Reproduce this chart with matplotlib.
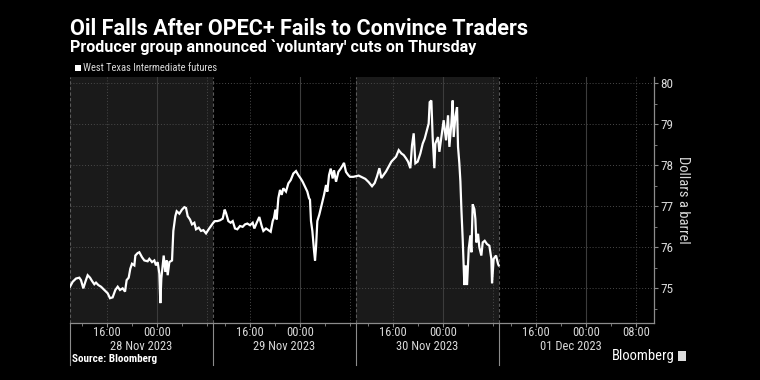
import matplotlib
matplotlib.use("Agg")
import matplotlib.pyplot as plt
import matplotlib.transforms as mtransforms
from matplotlib import font_manager
import numpy as np

# WTI futures. x = hours into each 23h trading session
# (session opens 10:00 local, so 16:00 -> 6, 00:00 -> 14, 08:00 -> 22)
sessions = ['28 Nov 2023', '29 Nov 2023', '30 Nov 2023', '01 Dec 2023']
session_len = 23

nov28_hours = [0.0, 0.43, 0.97, 1.50, 1.77, 2.14, 2.47, 2.84, 3.22, 3.54,
               3.91, 4.18, 4.56, 4.99, 5.52, 6.06, 6.43, 6.86, 7.29, 7.67,
               8.04, 8.47, 8.85, 9.11, 9.44, 9.70, 9.97, 10.35, 10.51, 10.88,
               11.15, 11.58, 11.96, 12.49, 12.76, 13.19, 13.56, 13.83, 14.10, 14.37,
               14.53, 14.69, 14.91, 15.07, 15.33, 15.55, 15.71, 15.98, 16.41, 16.62,
               16.94, 17.16, 17.59, 18.01, 18.39, 18.66, 18.93, 19.30, 19.62, 20.0,
               20.27, 20.70, 21.07, 21.45, 21.88, 22.30, 22.68]
nov28_price = [75.04, 75.16, 75.24, 75.26, 75.20, 75.00, 75.16, 75.32, 75.26, 75.18,
               75.10, 75.14, 75.08, 75.04, 74.96, 74.88, 74.76, 74.78, 74.96, 75.04,
               74.96, 75.00, 74.92, 75.20, 75.26, 75.48, 75.60, 75.56, 75.80, 75.86,
               75.88, 75.76, 75.68, 75.66, 75.72, 75.64, 75.68, 75.56, 75.64, 75.36,
               74.64, 75.24, 75.56, 75.80, 75.40, 75.68, 75.32, 75.64, 75.68, 76.40,
               76.76, 76.88, 76.82, 76.92, 76.98, 76.96, 76.76, 76.68, 76.56, 76.60,
               76.44, 76.48, 76.40, 76.42, 76.34, 76.44, 76.52]

nov29_hours = [0.05, 0.32, 0.70, 1.13, 1.56, 1.88, 2.09, 2.47, 2.84, 3.17,
               3.54, 3.91, 4.34, 4.77, 5.15, 5.52, 5.95, 6.38, 6.65, 7.03,
               7.45, 7.83, 8.10, 8.53, 8.90, 9.28, 9.60, 9.81, 10.03, 10.24,
               10.51, 10.78, 11.05, 11.31, 11.74, 12.12, 12.50, 12.92, 13.35, 13.73,
               14.10, 14.42, 14.80, 15.17, 15.44, 15.60, 15.76, 15.98, 16.25, 16.41,
               16.57, 16.78, 17.10, 17.48, 17.86, 18.18, 18.39, 18.66, 18.93, 19.25,
               19.46, 19.79, 20.16, 20.54, 20.86, 21.07, 21.39, 21.77, 22.04, 22.57]
nov29_price = [76.60, 76.64, 76.64, 76.66, 76.70, 76.92, 76.84, 76.64, 76.60, 76.64,
               76.46, 76.44, 76.52, 76.50, 76.56, 76.58, 76.54, 76.60, 76.46, 76.60,
               76.74, 76.52, 76.40, 76.46, 76.42, 76.38, 76.64, 76.72, 76.92, 76.68,
               77.20, 77.40, 77.28, 77.44, 77.36, 77.56, 77.64, 77.80, 77.86, 77.76,
               77.68, 77.60, 77.48, 77.36, 77.20, 77.16, 76.64, 76.40, 75.92, 75.68,
               76.00, 76.64, 76.80, 77.04, 77.28, 77.52, 77.36, 77.76, 77.92, 77.68,
               77.88, 77.60, 77.84, 77.92, 78.00, 78.06, 77.84, 77.76, 77.72, 77.72]

nov30_hours = [0.43, 0.97, 1.50, 2.04, 2.58, 3.01, 3.38, 3.76, 4.08,
               4.45, 4.83, 5.26, 5.69, 6.06, 6.44, 6.87, 7.30, 7.67, 8.05,
               8.37, 8.74, 9.01, 9.28, 9.55, 9.92, 10.35, 10.73, 11.05, 11.42,
               11.69, 11.85, 12.12, 12.33, 12.60, 12.76, 13.19, 13.41, 13.73, 14.10,
               14.48, 14.80, 15.02, 15.34, 15.55, 15.71, 15.98, 16.25, 16.41, 16.62,
               16.79, 16.95, 17.16, 17.43, 17.65, 17.86, 18.13, 18.39, 18.56, 18.77,
               19.04, 19.20, 19.36, 19.63, 19.84, 20.16, 20.38, 20.70, 21.07, 21.45,
               21.77, 21.88, 22.14, 22.52, 22.84, 22.95]
nov30_price = [77.75, 77.71, 77.67, 77.59, 77.49, 77.57, 77.73, 77.93, 77.69,
               77.77, 77.85, 77.97, 78.09, 78.15, 78.21, 78.37, 78.29, 78.25, 78.17,
               78.09, 77.93, 78.49, 78.78, 78.05, 78.09, 78.29, 78.53, 78.65, 78.86,
               79.02, 79.54, 79.58, 78.69, 77.93, 78.53, 78.69, 78.33, 78.69, 79.10,
               78.61, 79.22, 78.45, 79.02, 79.58, 78.69, 79.18, 79.42, 78.45, 78.05,
               77.61, 76.93, 76.20, 75.08, 75.56, 75.08, 75.96, 76.29, 75.88, 77.05,
               76.93, 76.69, 76.12, 76.33, 76.00, 75.80, 76.12, 76.16, 76.08, 76.04,
               75.72, 75.12, 75.72, 75.80, 75.60, 75.56]

tick_offsets = [6, 14, 22]
tick_names = ['16:00', '00:00', '08:00']
y_ticks = [75, 76, 77, 78, 79, 80]

# pick a condensed face if one is around
names = {f.name for f in font_manager.fontManager.ttflist}
def pick(*cands):
    for c in cands:
        if c in names:
            return c
    return 'DejaVu Sans'
narrow = pick('Liberation Sans Narrow', 'DejaVu Sans Condensed', 'Roboto Condensed', 'Open Sans Condensed')
head = pick('Roboto', 'Lato', 'Noto Sans')
plt.rcParams['font.family'] = [narrow, 'DejaVu Sans']

BG = '#000000'
SHADE = '#1a1a1a'
GRID = '#4a4a4a'
AXIS = '#8c8c8c'
TXT = '#d9d9d9'

# stitch sessions onto one axis
xs, ys = [], []
for k, (h, p) in enumerate([(nov28_hours, nov28_price), (nov29_hours, nov29_price), (nov30_hours, nov30_price)]):
    xs += [session_len * k + v for v in h]
    ys += p

W, H = 760, 380
fig = plt.figure(figsize=(7.6, 3.8), dpi=100, facecolor=BG)
ax = fig.add_axes([70 / W, 1 - 323 / H, (654 - 70) / W, (323 - 77) / H], facecolor=BG)
ax.set_xlim(0, 93.93)
ax.set_ylim(74.155, 80.154)

# alternate day shading + dashed session boundaries
for k in range(len(sessions)):
    if k % 2 == 0:
        ax.axvspan(session_len * k, session_len * (k + 1), color=SHADE, lw=0, zorder=0)
    ax.axvline(session_len * k, color='#5a5a5a', lw=0.8, ls=(0, (3, 2)), zorder=1)

# grid
for v in y_ticks:
    ax.axhline(v, color=GRID, lw=0.7, ls=(0, (1, 2)), zorder=1)
for k in range(len(sessions)):
    for off in tick_offsets:
        if off == 14:
            ax.axvline(session_len * k + off, color='#3c3c3c', lw=0.8, zorder=1)
        else:
            ax.axvline(session_len * k + off, color=GRID, lw=0.7, ls=(0, (1, 2)), zorder=1)

ax.plot(xs, ys, color='white', lw=1.6, zorder=3, solid_joinstyle='miter')

# x axis ticks
major = []
labels = []
for k in range(len(sessions)):
    for off, name in zip(tick_offsets, tick_names):
        if name == '08:00' and k < len(sessions) - 1:
            continue
        major.append(session_len * k + off)
        labels.append(name)
ax.set_xticks(major)
ax.set_xticklabels(labels)
minor = [session_len * k + off for k in range(len(sessions)) for off in (2, 10, 18, 22)]
ax.set_xticks(minor, minor=True)

ax.yaxis.tick_right()
ax.set_yticks(y_ticks)
ax.set_yticklabels([str(v) for v in y_ticks])
ax.set_yticks(np.arange(74.5, 80.0, 1.0), minor=True)

ax.tick_params(axis='x', which='major', colors=AXIS, labelcolor=TXT, labelsize=9,
               length=3, width=0.8, pad=-1)
ax.tick_params(axis='x', which='minor', colors=AXIS, length=2, width=0.6)
ax.tick_params(axis='y', which='major', colors=AXIS, labelcolor=TXT, labelsize=9.5,
               length=3, width=0.8, pad=1.5)
ax.tick_params(axis='y', which='minor', colors=AXIS, length=2, width=0.6)

for s in ['top', 'left']:
    ax.spines[s].set_visible(False)
for s in ['bottom', 'right']:
    ax.spines[s].set_color(AXIS)
    ax.spines[s].set_linewidth(0.9)

# session date labels + separators under the axis
trans = mtransforms.blended_transform_factory(ax.transData, ax.transAxes)
for k, name in enumerate(sessions):
    ax.text(session_len * k + session_len / 2, -(346.5 - 323) / 246, name, transform=trans,
            ha='center', va='center', color=TXT, fontsize=9)
    ax.plot([session_len * k] * 2, [0, -0.17], transform=trans, color=AXIS,
            lw=0.8, clip_on=False)

ax.text((683 - 70) / 584, 0.5, 'Dollars a barrel', transform=ax.transAxes, rotation=270,
        ha='center', va='center', color=TXT, fontsize=10.5)

# header
fig.text(70 / W, 1 - 29 / H, 'Oil Falls After OPEC+ Fails to Convince Traders',
         color='white', fontsize=15.6, fontweight='bold', va='center', ha='left',
         family=[head, 'DejaVu Sans'])
fig.text(70 / W, 1 - 47.5 / H, "Producer group announced `voluntary' cuts on Thursday",
         color='white', fontsize=11.6, fontweight='bold', va='center', ha='left',
         family=[head, 'DejaVu Sans'])
fig.patches.append(plt.Rectangle((75 / W, 1 - 71 / H), 6 / W, 6 / H, transform=fig.transFigure,
                                 facecolor='white', edgecolor='none'))
fig.text(83 / W, 1 - 68 / H, 'West Texas Intermediate futures', color=TXT,
         fontsize=7.6, va='center', ha='left')

# footer
fig.text(72 / W, 1 - 359 / H, 'Source: Bloomberg', color='white', fontsize=8,
         fontweight='bold', va='center', ha='left')
fig.text(612 / W, 1 - 356 / H, 'Bloomberg', color='white', fontsize=10.5,
         va='center', ha='left')
fig.patches.append(plt.Rectangle((678 / W, 1 - 361 / H), 8 / W, 10 / H, transform=fig.transFigure,
                                 facecolor='#dddddd', edgecolor='none'))

fig.savefig('out.png', dpi=100, facecolor=BG)
